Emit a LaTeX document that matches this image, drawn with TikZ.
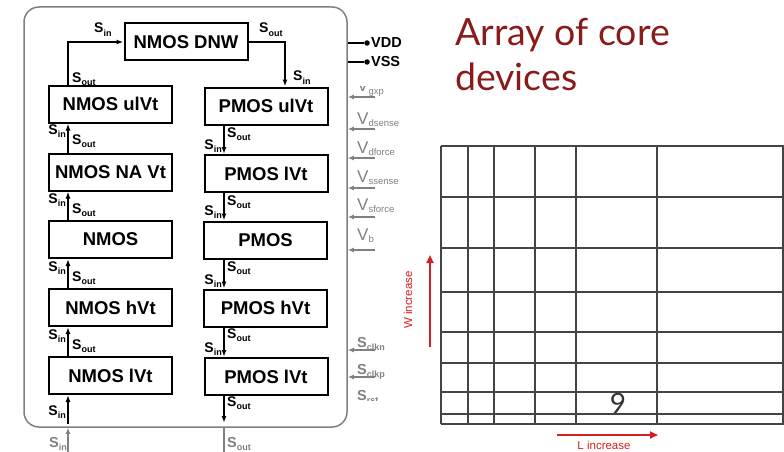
\documentclass[tikz,border=0pt]{standalone}
\usepackage{fontspec}
\setmainfont{Liberation Sans}
\newfontfamily\latof{Lato}
\usetikzlibrary{arrows.meta}
\definecolor{titred}{HTML}{8B1A1A}
\definecolor{gline}{HTML}{808080}
\definecolor{gridc}{HTML}{444444}
\definecolor{redarr}{HTML}{D21F1F}
\newcommand\SL[2]{#1\raisebox{-0.45ex}{\fontsize{9}{9}\selectfont #2}}
\newcommand\VL[2]{#1\raisebox{-0.3ex}{\fontsize{9.5}{9.5}\selectfont #2}}
\begin{document}
\begin{tikzpicture}[x=1pt,y=-1pt,
 dev/.style={draw,line width=2pt,minimum width=123pt,minimum height=37pt,inner sep=0pt,font=\fontsize{18.5}{20}\selectfont\bfseries},
 arr/.style={line width=1.5pt,-{Latex[length=7pt,width=5pt]}},
 garr/.style={gline,line width=1.5pt,-{Latex[length=6pt,width=5pt]}},
 slab/.style={inner sep=0pt,font=\fontsize{14}{14}\selectfont\bfseries},
 vlab/.style={inner sep=0pt,gline,font=\fontsize{17}{17}\selectfont},
 gslab/.style={inner sep=0pt,gline,font=\fontsize{14.5}{14.5}\selectfont\bfseries},
 railtxt/.style={anchor=west,inner sep=1pt,font=\fontsize{14.5}{15}\selectfont\bfseries},
 raildot/.style={circle,fill,inner sep=0pt,minimum size=5.5pt},
 gridline/.style={gridc,line width=1.6pt},
 redline/.style={redarr,line width=2pt,-{Triangle[length=8pt,width=7pt]}},
 redtxt/.style={redarr,inner sep=0pt,font=\fontsize{11.5}{12}\selectfont},
 ttl/.style={anchor=base west,inner sep=0pt,titred,font=\latof\fontsize{37.5}{44}\selectfont}
]
\useasboundingbox (0,0) rectangle (784,452);

% frame
\node[draw=gline,line width=1.5pt,rounded corners=15pt,minimum width=323pt,minimum height=420pt,inner sep=0pt] (frame) at (185.5,217) {};

% devices
\node[dev] (dnw) at (186,42) {NMOS DNW};
\node[dev] (nu)  at (110.5,104) {NMOS ulVt};
\node[dev] (nna) at (110.5,172) {NMOS NA Vt};
\node[dev] (nm)  at (110.5,239.5) {NMOS};
\node[dev] (nh)  at (110.5,307.5) {NMOS hVt};
\node[dev] (nl)  at (110.5,375.5) {NMOS lVt};
\node[dev] (pu)  at (266,106) {PMOS ulVt};
\node[dev] (pl1) at (266,173.5) {PMOS lVt};
\node[dev] (pm)  at (265.5,240) {PMOS};
\node[dev] (ph)  at (265.5,308) {PMOS hVt};
\node[dev] (pl2) at (266,376.5) {PMOS lVt};

\coordinate (xl) at (68,0);
\coordinate (xr) at (224,0);
\coordinate (xt) at (285,0);

% top connections
\draw[arr] (nu.north -| xl) |- (dnw.west);
\draw[arr] (dnw.east) -| (pu.north -| xt);

% left column (upwards)
\draw[arr] (nna.north -| xl) -- (nu.south -| xl);
\draw[arr] (nm.north -| xl) -- (nna.south -| xl);
\draw[arr] (nh.north -| xl) -- (nm.south -| xl);
\draw[arr] (nl.north -| xl) -- (nh.south -| xl);
\coordinate (inb) at (68,424);
\draw[arr] (inb) -- (nl.south -| xl);

% right column (downwards)
\draw[arr] (pu.south -| xr) -- (pl1.north -| xr);
\draw[arr] (pl1.south -| xr) -- (pm.north -| xr);
\draw[arr] (pm.south -| xr) -- (ph.north -| xr);
\draw[arr] (ph.south -| xr) -- (pl2.north -| xr);
\coordinate (outb) at (224,423);
\draw[arr] (pl2.south -| xr) -- (outb);

% S labels
\node[slab,anchor=base west] (ls1) at (94,33) {\SL{S}{in}};
\node[slab,anchor=base west] (ls2) at (72,82) {\SL{S}{out}};
\node[slab,anchor=base west] (rs1) at (259,33) {\SL{S}{out}};
\node[slab,anchor=base west] (rs2) at (293,81) {\SL{S}{in}};
\foreach \yi/\yo [count=\k] in {134/144,203/213,271/281,339/349}{
  \node[slab,anchor=base east] (lin\k) at (66,\yi) {\SL{S}{in}};
  \node[slab,anchor=base west] (lout\k) at (72,\yo) {\SL{S}{out}};
}
\node[slab,anchor=base east] (lin5) at (66,415) {\SL{S}{in}};
\foreach \yo/\yi [count=\k] in {137/149,205/215,271/284,338/352}{
  \node[slab,anchor=base west] (rout\k) at (227,\yo) {\SL{S}{out}};
  \node[slab,anchor=base east] (rin\k) at (222,\yi) {\SL{S}{in}};
}
\node[slab,anchor=base west] (rout5) at (227,406) {\SL{S}{out}};

% below frame
\coordinate (ginb) at (68,462);
\draw[garr] (ginb) -- (frame.south -| xl);
\coordinate (goutb) at (224,462);
\draw[garr] (frame.south -| xr) -- (goutb);
\node[gslab,anchor=base west] (gsin) at (49,447) {\SL{S}{in}};
\node[gslab,anchor=base west] (gsout) at (227,447) {\SL{S}{out}};

% rails
\node[raildot] (vdd) at (367,43) {};
\draw[line width=1.3pt] (frame.east |- vdd) -- (vdd);
\node[railtxt] (vddt) at (vdd.east) {VDD};
\node[raildot] (vss) at (367,62) {};
\draw[line width=1.3pt] (frame.east |- vss) -- (vss);
\node[railtxt] (vsst) at (vss.east) {VSS};

% gray inputs
\foreach \ya/\nm in {97/a,129/b,158/c,188/d,217/e,250/f,350/g,377/h}{
  \coordinate (g\nm) at (375,\ya);
  \draw[garr] (g\nm) -- (g\nm -| frame.east);
}
\begin{scope}
\clip (352,86) rectangle (400,100);
\node[vlab,anchor=base west] (vgxp) at (357,92) {\VL{V}{gxp}};
\end{scope}
\node[vlab,anchor=base west] (vds) at (357,124) {\VL{V}{dsense}};
\node[vlab,anchor=base west] (vdf) at (357,153) {\VL{V}{dforce}};
\node[vlab,anchor=base west] (vss2) at (357,182) {\VL{V}{ssense}};
\node[vlab,anchor=base west] (vsf) at (357,210) {\VL{V}{sforce}};
\node[vlab,anchor=base west] (vb) at (357,240) {\VL{V}{b}};
\node[gslab,anchor=base west] (sclkn) at (357,347) {\SL{S}{clkn}};
\node[gslab,anchor=base west] (sclkp) at (357,374) {\SL{S}{clkp}};
\begin{scope}
\clip (352,385) rectangle (400,400.5);
\node[gslab,anchor=base west] (srst) at (357,400) {\SL{S}{rst}};
\end{scope}

% title
\node[ttl] (t1) at (455,46) {Array of core};
\node[ttl] (t2) at (455,90) {devices};

% grid
\foreach \x in {441,468,494,535,576,657,783}
  \draw[gridline] (\x,146) -- (\x,424);
\foreach \y in {146,197,248,292,332,363,392,414,424}
  \draw[gridline] (441,\y) -- (784,\y);

\node[anchor=base,inner sep=0pt,font=\latof\fontsize{28}{28}\selectfont,color=black!80] (pg) at (618,413) {9};

% red arrows
\coordinate (wa) at (430,347);
\coordinate (wb) at (430,255);
\draw[redline] (wa) -- (wb);
\node[redtxt,rotate=90] (wt) at (408,300) {W increase};
\coordinate (la) at (557,435);
\coordinate (lb) at (658,435);
\draw[redline] (la) -- (lb);
\node[redtxt,anchor=base] (lt) at (604,449) {L increase};
\end{tikzpicture}
\end{document}
